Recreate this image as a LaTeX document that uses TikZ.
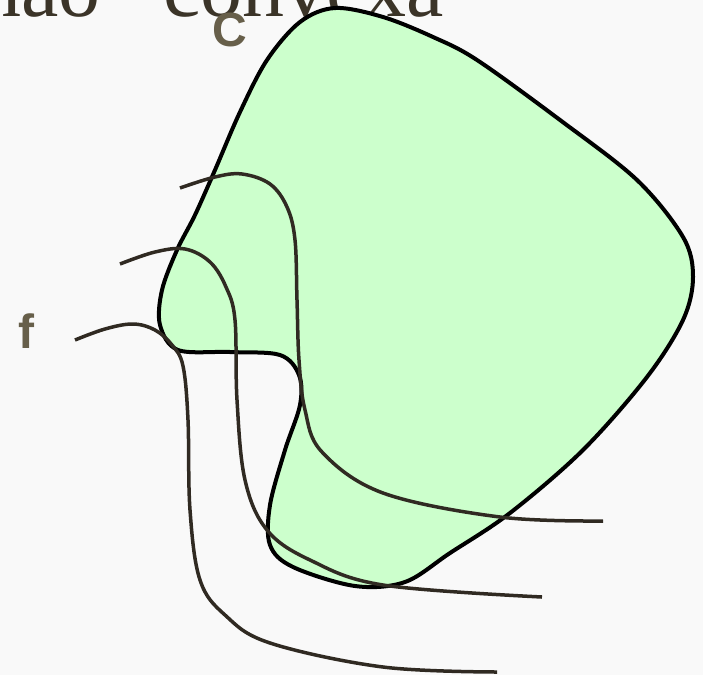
\documentclass[tikz,border=0pt]{standalone}
\usepackage{fontspec}
\setmainfont{Liberation Serif}
\newfontfamily\lsans{Liberation Sans}
\definecolor{bgc}{HTML}{F9F9F9}
\definecolor{fillg}{HTML}{CCFFCC}
\definecolor{curvec}{HTML}{302A22}
\definecolor{labc}{HTML}{675F4A}
\definecolor{titc}{HTML}{3B3428}
\tikzset{
  blob/.style={draw=black,line width=4pt,fill=fillg},
  fcurve/.style={draw=curvec,line width=3.5pt},
  lab/.style={text=labc,font=\lsans\bfseries\fontsize{48}{50}\selectfont,inner sep=0pt}
}
\begin{document}
\begin{tikzpicture}[x=1pt,y=-1pt]
\fill[bgc] (0,0) rectangle (703,675);
\useasboundingbox (0,0) rectangle (703,675);
\node[anchor=base west,inner sep=0pt,text=titc,font=\fontsize{84}{86}\selectfont] (title) at (-21,16) {não \hspace{42pt}convexa};
\draw[blob] plot[smooth cycle,tension=0.55] coordinates {
(335,8) (300,22) (267,60) (240,112) (215,170) (195,215) (177,250) (162,290) (160,325) (178,350)
(230,352) (280,355) (299,375) (300,405) (285,450) (270,505) (270,545) (293,567)
(355,586) (405,582) (450,553) (510,513) (583,450) (647,377) (683,320) (693,277)
(683,237) (637,180) (560,120) (477,60) (433,37) (383,17)};
\node[lab] (C) at (230,30) {C};
\node[lab] (f) at (26,331) {f};
\draw[fcurve] plot[smooth,tension=0.6] coordinates {
(180,188) (215,177) (242,174) (270,184) (287,207) (295,240) (297,300) (299,360) (305,410) (322,452) (383,493) (500,517) (603,521)};
\draw[fcurve] plot[smooth,tension=0.6] coordinates {
(120,264) (155,252) (185,249) (210,262) (226,287) (235,320) (237,400) (245,480) (267,530) (310,560) (383,585) (542,597)};
\draw[fcurve] plot[smooth,tension=0.6] coordinates {
(75,340) (105,329) (133,324) (155,330) (172,345) (183,366) (188,420) (190,510) (200,580) (225,615) (270,643) (383,667) (497,672)};
\end{tikzpicture}
\end{document}
